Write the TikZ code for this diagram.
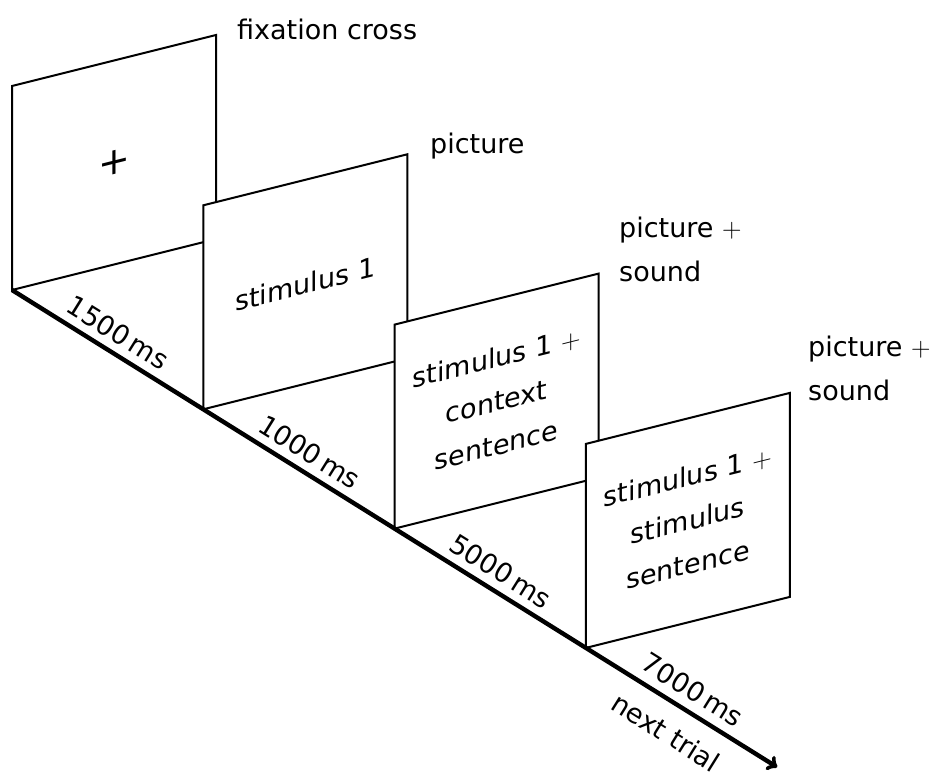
\RequirePackage{fix-cm}
\documentclass[tikz,border=0pt]{standalone}
\usepackage[no-math]{fontspec}
\setmainfont{DejaVu Sans}
\begin{document}
\begin{tikzpicture}[x=1pt,y=-1pt,
  panel/.style={draw=black, fill=white, line width=2pt, line join=miter},
  lbl/.style={font=\fontsize{27}{44}\selectfont, inner sep=0pt, align=left, anchor=base west},
  ptext/.style={font=\fontsize{27}{44}\selectfont, inner sep=0pt, align=center, anchor=center, transform shape},
  bigplus/.style={font=\fontsize{38}{44}\selectfont, inner sep=0pt, anchor=center, transform shape},
  tlbl/.style={font=\fontsize{27}{32}\selectfont, inner sep=0pt, anchor=center, rotate=-31.95},
  timeline/.style={line width=4.4pt, ->}
]
\useasboundingbox (0,0) rectangle (944,771);

\coordinate (P0) at (12,290);
\coordinate (P1) at (203.3,409.3);
\coordinate (P2) at (394.6,528.6);
\coordinate (P3) at (585.9,647.9);
\coordinate (P4) at (777.2,767.2);

% panels (back to front)
\draw[panel] (P0) -- ++(0,-204) -- ++(204,-51) -- ++(0,204) -- cycle;
\draw[panel] (P1) -- ++(0,-204) -- ++(204,-51) -- ++(0,204) -- cycle;
\draw[panel] (P2) -- ++(0,-204) -- ++(204,-51) -- ++(0,204) -- cycle;
\draw[panel] (P3) -- ++(0,-204) -- ++(204,-51) -- ++(0,204) -- cycle;

% panel contents (slanted with the panels)
\begin{scope}[shift={(114,162.5)}, yslant=0.25]
  \node[bigplus] (c1) at (0,0) {+};
\end{scope}
\begin{scope}[shift={(305.3,284)}, yslant=0.25]
  \node[ptext] (c2) at (0,0) {stimulus 1};
\end{scope}
\begin{scope}[shift={(496.6,401.1)}, yslant=0.25]
  \node[ptext] (c3) at (0,0) {stimulus 1 $+$\\context\\sentence};
\end{scope}
\begin{scope}[shift={(687.9,520.4)}, yslant=0.25]
  \node[ptext] (c4) at (0,0) {stimulus 1 $+$\\stimulus\\sentence};
\end{scope}

% labels to the right of panels (base = last line's baseline)
\node[lbl] (l1) at (237,39) {fixation cross};
\node[lbl] (l2) at (430,153) {picture};
\node[lbl] (l3) at (619,281) {picture $+$\\sound};
\node[lbl] (l4) at (808,400) {picture $+$\\sound};

% timeline
\draw[timeline] (P0) -- (P4);
\node[tlbl] (d1) at (118.2,332.7) {1500\,ms};
\node[tlbl] (d2) at (309.5,452.0) {1000\,ms};
\node[tlbl] (d3) at (500.8,571.3) {5000\,ms};
\node[tlbl] (d4) at (692.7,689.7) {7000\,ms};
\node[tlbl] (d5) at (666.0,732.4) {next trial};
\end{tikzpicture}
\end{document}
